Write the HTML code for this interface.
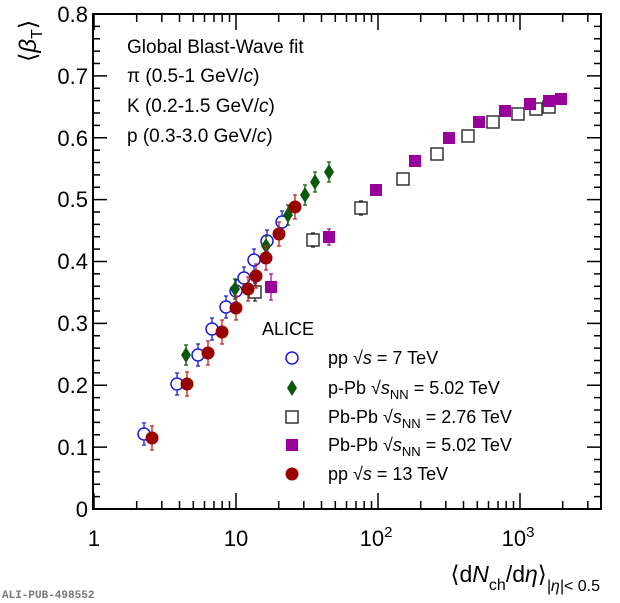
<!DOCTYPE html>
<html><head><meta charset="utf-8"><style>
body{margin:0;background:#fff;}
svg{display:block;font-family:"Liberation Sans",Arial,sans-serif;}
</style></head><body>
<svg width="620" height="603" viewBox="0 0 620 603" xmlns="http://www.w3.org/2000/svg">
<rect width="620" height="603" fill="#fff"/>
<g stroke="#000" stroke-width="2" fill="none">
<rect x="93" y="14" width="508" height="495"/>
</g>
<g id="ticks" stroke="#000" stroke-width="1.5">
<!-- y ticks -->
<path d="M93 509h14M93 447.1h14M93 385.2h14M93 323.4h14M93 261.5h14M93 199.6h14M93 137.8h14M93 75.9h14M93 14h14
M601 447.1h-14M601 385.2h-14M601 323.4h-14M601 261.5h-14M601 199.6h-14M601 137.8h-14M601 75.9h-14
M93 496.6h7M93 484.3h7M93 471.9h7M93 459.5h7M93 434.7h7M93 422.4h7M93 410h7M93 397.6h7M93 372.9h7M93 360.5h7M93 348.1h7M93 335.7h7M93 311h7M93 298.6h7M93 286.2h7M93 273.9h7M93 249.1h7M93 236.7h7M93 224.4h7M93 212h7M93 187.2h7M93 174.9h7M93 162.5h7M93 150.1h7M93 125.4h7M93 113h7M93 100.6h7M93 88.3h7M93 63.5h7M93 51.1h7M93 38.8h7M93 26.4h7
M601 496.6h-7M601 484.3h-7M601 471.9h-7M601 459.5h-7M601 434.7h-7M601 422.4h-7M601 410h-7M601 397.6h-7M601 372.9h-7M601 360.5h-7M601 348.1h-7M601 335.7h-7M601 311h-7M601 298.6h-7M601 286.2h-7M601 273.9h-7M601 249.1h-7M601 236.7h-7M601 224.4h-7M601 212h-7M601 187.2h-7M601 174.9h-7M601 162.5h-7M601 150.1h-7M601 125.4h-7M601 113h-7M601 100.6h-7M601 88.3h-7M601 63.5h-7M601 51.1h-7M601 38.8h-7M601 26.4h-7"/>
</g>
<g id="xt" stroke="#000" stroke-width="1.5"></g>
<g font-size="22" text-anchor="end" fill="#000">
<text x="88" y="517">0</text><text x="88" y="455">0.1</text><text x="88" y="393">0.2</text><text x="88" y="331">0.3</text><text x="88" y="269">0.4</text><text x="88" y="207">0.5</text><text x="88" y="146">0.6</text><text x="88" y="84">0.7</text><text x="88" y="22">0.8</text>
</g>
<g font-size="22" text-anchor="middle" fill="#000">
<text x="94" y="546">1</text><text x="236" y="546">10</text>
<text x="376" y="546">10<tspan font-size="15" dy="-9">2</tspan></text>
<text x="518" y="546">10<tspan font-size="15" dy="-9">3</tspan></text>
</g>
<text x="600" y="582" font-size="23" text-anchor="end">⟨d<tspan font-style="italic">N</tspan><tspan font-size="16" dy="8">ch</tspan><tspan dy="-8">/d</tspan><tspan font-style="italic">η</tspan>⟩<tspan font-size="16" dy="9"><tspan font-style="italic">|η|</tspan>&lt; 0.5</tspan></text>
<text transform="translate(36,62) rotate(-90)" font-size="24">⟨<tspan font-style="italic">β</tspan><tspan font-size="16" dy="6">T</tspan><tspan dy="-6">⟩</tspan></text>
<g font-size="19" fill="#000">
<text x="127" y="53">Global Blast-Wave fit</text>
<text x="127" y="82">π (0.5-1 GeV/<tspan font-style="italic">c</tspan>)</text>
<text x="127" y="112">K (0.2-1.5 GeV/<tspan font-style="italic">c</tspan>)</text>
<text x="127" y="142">p (0.3-3.0 GeV/<tspan font-style="italic">c</tspan>)</text>
</g>
<text x="2" y="598" font-size="11" fill="#777" font-family="Liberation Mono,monospace" font-weight="bold">ALI-PUB-498552</text>
<g id="data"></g>
<!-- legend -->
<g font-size="18" fill="#000">
<text x="262" y="335">ALICE</text>
<text x="328" y="364">pp  √<tspan font-style="italic">s</tspan> = 7 TeV</text>
<text x="328" y="394">p-Pb √<tspan font-style="italic">s</tspan><tspan font-size="13" dy="5">NN</tspan><tspan dy="-5"> = 5.02 TeV</tspan></text>
<text x="328" y="423">Pb-Pb √<tspan font-style="italic">s</tspan><tspan font-size="13" dy="5">NN</tspan><tspan dy="-5"> = 2.76 TeV</tspan></text>
<text x="328" y="451">Pb-Pb √<tspan font-style="italic">s</tspan><tspan font-size="13" dy="5">NN</tspan><tspan dy="-5"> = 5.02 TeV</tspan></text>
<text x="328" y="480">pp  √<tspan font-style="italic">s</tspan> = 13 TeV</text>
</g>
<circle cx="292" cy="358" r="6" fill="none" stroke="#1a1adf" stroke-width="1.5"/>
<path d="M292 380l5 8-5 8-5-8z" fill="#0b5a0b"/>
<rect x="286" y="411" width="12" height="12" fill="#fff" stroke="#333" stroke-width="1.5"/>
<rect x="286" y="439" width="12" height="12" fill="#990099"/>
<circle cx="292" cy="474" r="6.5" fill="#990000"/>
<script>
var ns="http://www.w3.org/2000/svg";
function el(t,a,p){var e=document.createElementNS(ns,t);for(var k in a)e.setAttribute(k,a[k]);(p||document.getElementById('data')).appendChild(e);return e;}
var xt=document.getElementById('xt');var d="";
function X(v){return 94+142*Math.log10(v);}
for(var dec=1;dec<=1000;dec*=10){for(var m=1;m<10;m++){var v=dec*m;var x=X(v);if(x>600)break;var L=(m==1)?16:8;d+="M"+x.toFixed(1)+" 509v-"+L+"M"+x.toFixed(1)+" 14v"+L;}}
el('path',{d:d,stroke:'#000','stroke-width':1.5},xt);
function eb(x,y,h,c){el('path',{d:"M"+x+" "+(y-h)+"v"+(2*h)+"M"+(x-2)+" "+(y-h)+"h4M"+(x-2)+" "+(y+h)+"h4",stroke:c,'stroke-width':1.3,fill:'none'});}
var blue=[[144,434],[177,384],[198,355],[212,329],[226,307],[236,291],[244,278],[254,260],[267,241],[282,222]];
var red=[[152,438],[187,384],[208,353],[222,332],[236,308],[248,289],[256,276],[266,258],[279,234],[295,207]];
var grn=[[186,355],[235,289],[266,246],[288,215],[305,195],[315,182],[329,172]];
var blk=[[255,292],[313,240],[361,208],[403,179],[437,154],[468,136],[493,122],[518,114],[536,109],[549,107]];
var mag=[[271,287],[329,237],[376,190],[415,161],[449,138],[479,122],[505,111],[530,104],[549,101],[561,99]];
blk.forEach(function(p,i){if(i<3)eb(p[0],p[1],i==0?9:7,'#222');el('rect',{x:p[0]-6,y:p[1]-6,width:12,height:12,fill:'#fff',stroke:'#333','stroke-width':1.5});});
mag.forEach(function(p,i){if(i<2)eb(p[0],p[1],i==0?13:8,'#a010a0');el('rect',{x:p[0]-6,y:p[1]-6,width:12,height:12,fill:'#990099'});});
blue.forEach(function(p){eb(p[0],p[1],11,'#1a1adf');el('circle',{cx:p[0],cy:p[1],r:6,fill:'#fff',stroke:'#1a1adf','stroke-width':1.5});});
grn.forEach(function(p){eb(p[0],p[1],10,'#0b5a0b');el('path',{d:"M"+p[0]+" "+(p[1]-8)+"l5 8-5 8-5-8z",fill:'#0b5a0b'});});
red.forEach(function(p){eb(p[0],p[1],12,'#c02020');el('circle',{cx:p[0],cy:p[1],r:6.5,fill:'#990000'});});
</script>
</svg>
</body></html>
